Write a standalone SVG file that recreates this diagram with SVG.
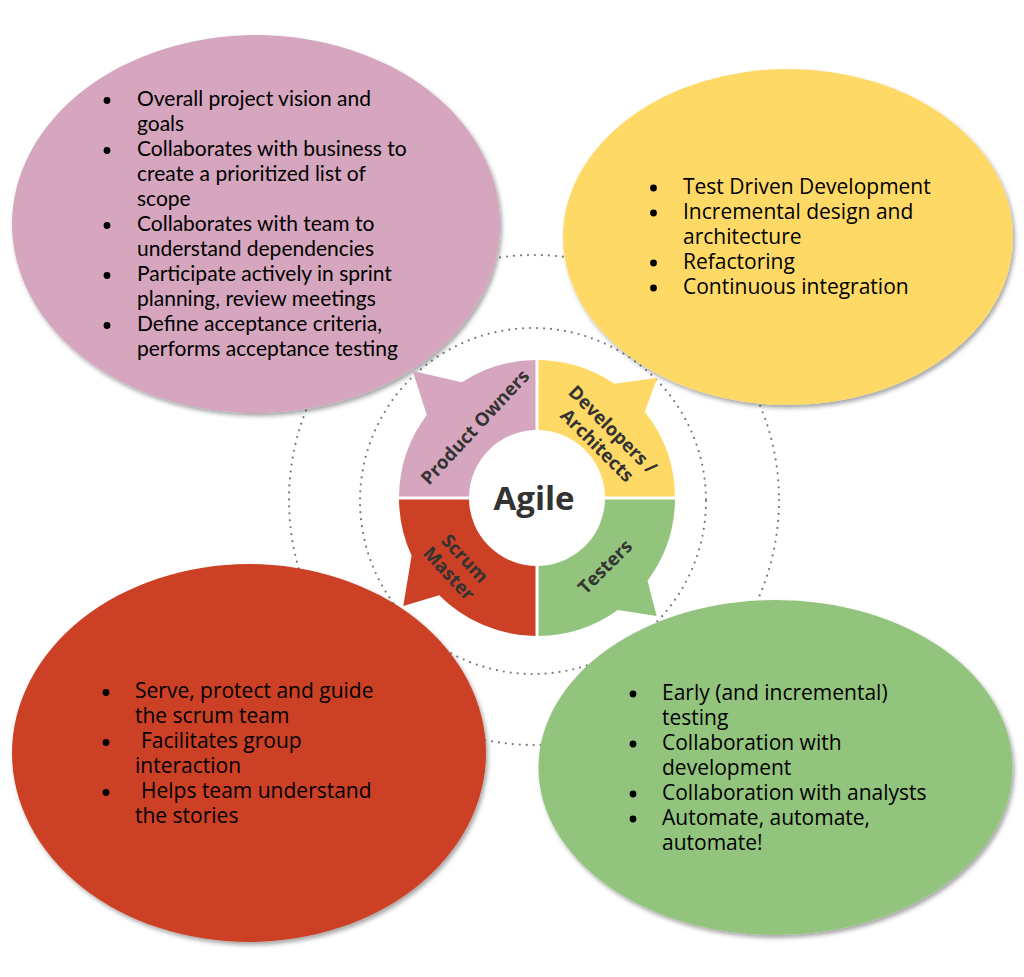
<svg xmlns="http://www.w3.org/2000/svg" width="1024" height="977" viewBox="0 0 1024 977">
<defs>
<filter id="sh" x="-10%" y="-10%" width="125%" height="125%">
<feDropShadow dx="2" dy="3" stdDeviation="2" flood-color="#000" flood-opacity="0.35"/>
</filter>
<style>
.dot{fill:none;stroke:#777;stroke-width:2.2;stroke-linecap:round;stroke-dasharray:0 7}
.lato{font-family:Lato,"Liberation Sans",sans-serif;font-size:21px;fill:#000}
.os{font-family:"Open Sans","Liberation Sans",sans-serif;font-size:21px;fill:#000}
.lbl{font-family:"Open Sans","Liberation Sans",sans-serif;font-size:18.5px;font-weight:bold;fill:#333;text-anchor:middle}
.agile{font-family:"Open Sans","Liberation Sans",sans-serif;font-size:33px;font-weight:bold;fill:#333;text-anchor:middle}
.b{fill:#000}
.pink{fill:#d5a6bd}.yellow{fill:#ffd966}.red{fill:#cc4125}.green{fill:#93c47d}
</style>
</defs>
<rect width="1024" height="977" fill="#fff"/>
<g id="rings">
<circle class="dot" cx="534" cy="500" r="245"/>
<circle class="dot" cx="533" cy="501" r="173"/>
</g>
<g id="connectors"/>
<g id="po-bubble">
<ellipse class="pink" cx="256" cy="224" rx="244" ry="189" filter="url(#sh)"/>
<g class="b"><circle cx="107" cy="100.5" r="3.4"/><circle cx="107" cy="150.5" r="3.4"/><circle cx="107" cy="225.5" r="3.4"/><circle cx="107" cy="275.5" r="3.4"/><circle cx="107" cy="325.5" r="3.4"/></g>
<text class="lato"><tspan x="137" y="106">Overall project vision and</tspan><tspan x="137" y="131">goals</tspan><tspan x="137" y="156">Collaborates with business to</tspan><tspan x="137" y="181">create a prioritized list of</tspan><tspan x="137" y="206">scope</tspan><tspan x="137" y="231">Collaborates with team to</tspan><tspan x="137" y="256">understand dependencies</tspan><tspan x="137" y="281">Participate actively in sprint</tspan><tspan x="137" y="306">planning, review meetings</tspan><tspan x="137" y="331">Define acceptance criteria,</tspan><tspan x="137" y="356">performs acceptance testing</tspan></text>
</g>
<g id="dev-bubble">
<ellipse class="yellow" cx="788" cy="237" rx="225" ry="168" filter="url(#sh)"/>
<g class="b"><circle cx="653.5" cy="188" r="3.4"/><circle cx="653.5" cy="213" r="3.4"/><circle cx="653.5" cy="263" r="3.4"/><circle cx="653.5" cy="288" r="3.4"/></g>
<text class="os"><tspan x="683" y="194">Test Driven Development</tspan><tspan x="683" y="219">Incremental design and</tspan><tspan x="683" y="244">architecture</tspan><tspan x="683" y="269">Refactoring</tspan><tspan x="683" y="294">Continuous integration</tspan></text>
</g>
<g id="sm-bubble">
<ellipse class="red" cx="249" cy="753" rx="237" ry="189" filter="url(#sh)"/>
<g class="b"><circle cx="106" cy="692.5" r="3.4"/><circle cx="106" cy="742.5" r="3.4"/><circle cx="106" cy="792.5" r="3.4"/></g>
<text class="os"><tspan x="135" y="698">Serve, protect and guide</tspan><tspan x="135" y="723">the scrum team</tspan><tspan x="141" y="748">Facilitates group</tspan><tspan x="135" y="773">interaction</tspan><tspan x="141" y="798">Helps team understand</tspan><tspan x="135" y="823">the stories</tspan></text>
</g>
<g id="testers-bubble">
<ellipse class="green" cx="775.5" cy="767.5" rx="237" ry="167.5" filter="url(#sh)"/>
<g class="b"><circle cx="633" cy="694" r="3.4"/><circle cx="633" cy="744" r="3.4"/><circle cx="633" cy="794" r="3.4"/><circle cx="633" cy="819" r="3.4"/></g>
<text class="os"><tspan x="662" y="700">Early (and incremental)</tspan><tspan x="662" y="725">testing</tspan><tspan x="662" y="750">Collaboration with</tspan><tspan x="662" y="775">development</tspan><tspan x="662" y="800">Collaboration with analysts</tspan><tspan x="662" y="825">Automate, automate,</tspan><tspan x="662" y="850">automate!</tspan></text>
</g>
<g id="seg-po">
<path class="pink" d="M535.5,360 A138,138 0 0 0 461.8,382.3 L412.7,371 L426.8,414.9 A138,138 0 0 0 399,496.5 L469,496.5 A68,68 0 0 1 535.5,430 Z"/>
<text class="lbl" transform="translate(475,427) rotate(-47)" y="6.5">Product Owners</text>
</g>
<g id="seg-dev">
<path class="yellow" d="M538.5,430 L538.5,360 A138,138 0 0 1 614.4,383.7 L657.3,377.7 L644.8,411.7 A138,138 0 0 1 675,496.5 L605,496.5 A68,68 0 0 0 538.5,430 Z"/>
<text class="lbl" transform="translate(605,437.5) rotate(45)"><tspan x="0" y="-4.5">Developers /</tspan><tspan x="0" y="17.5">Architects</tspan></text>
</g>
<g id="seg-testers">
<path class="green" d="M605,499.5 L675,499.5 A138,138 0 0 1 647.5,580.7 L656.7,616 L617.8,610 A138,138 0 0 1 538.5,636 L538.5,566 A68,68 0 0 0 605,499.5 Z"/>
<text class="lbl" transform="translate(605,566.7) rotate(-45)" y="6.5">Testers</text>
</g>
<g id="seg-sm">
<path class="red" d="M535.5,566 L535.5,636 A138,138 0 0 1 439.2,595.3 L403.3,606 L411.6,555.7 A138,138 0 0 1 399,499.5 L469,499.5 A68,68 0 0 0 535.5,566 Z"/>
<text class="lbl" transform="translate(457,566) rotate(47)"><tspan x="0" y="-4.5">Scrum</tspan><tspan x="0" y="17.5">Master</tspan></text>
</g>
<g id="agile">
<text class="agile" x="534" y="509.5">Agile</text>
</g>
</svg>
